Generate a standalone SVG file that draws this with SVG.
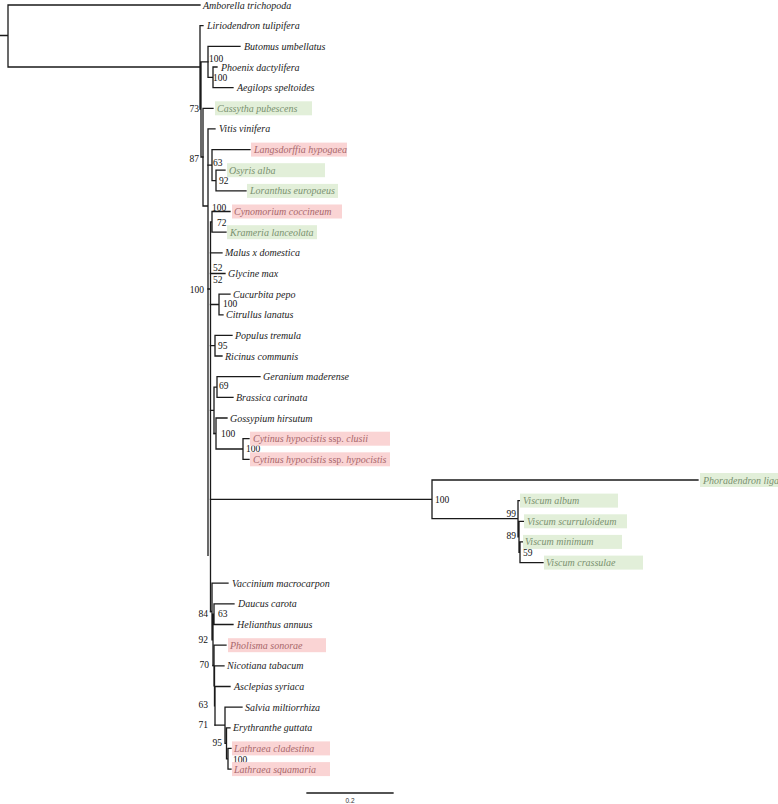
<svg xmlns="http://www.w3.org/2000/svg" width="778" height="804" viewBox="0 0 778 804">
<style>
.br{fill:none;stroke:#1a1a1a;stroke-width:1.3;stroke-linecap:square}
.lf{font-family:"Liberation Serif","Times New Roman",serif;font-style:italic;font-size:10px;fill:#222}
.g{fill:#7a9170}
.p{fill:#a8676b}
.bg{fill:#e2efd9}
.bp{fill:#fad4d4}
.sv{font-family:"Liberation Serif","Times New Roman",serif;font-size:9.5px;fill:#111}
.e{text-anchor:end}
.rm{font-style:normal}
</style>
<rect width="778" height="804" fill="#ffffff"/>
<g id="connectors">
<path class="br" d="M0 35.5H8M8 5V67M8 5H200M8 67H200"/>
<path class="br" d="M200 25.6V109M200 25.6H203M200 109H201M201 61.8V157M201 61.8H208M201 157H203"/>
<path class="br" d="M208 46.3V77.3M208 46.3H240M208 77.3H213M213 67V87.6M213 67H217M213 87.6H233"/>
<path class="br" d="M203 108.3V206M203 108.3H213M203 206H208M208 128.9V555.4M208 128.9H215"/>
<path class="br" d="M208 165.1H212M212 149.6V180.6M212 149.6H250M212 180.6H216M216 170.2V190.9M216 170.2H225M216 190.9H246"/>
<path class="br" d="M208 289H210.5M210.5 221.9V611.5M210.5 221.9H212M212 211.5V232.2M212 211.5H230M212 232.2H226"/>
<path class="br" d="M210.5 252.8H222M210.5 273.5H225M210.5 304.5H219M219 294.1V314.8M219 294.1H230M219 314.8H223"/>
<path class="br" d="M210.5 345.7H215M215 335.4V356M215 335.4H232M215 356H222"/>
<path class="br" d="M210.5 410.3H214M214 387.1V433.5M214 387.1H217M217 376.7V397.4M217 376.7H260M217 397.4H233"/>
<path class="br" d="M214 433.5H216M216 418V449M216 418H227M216 449H243M243 438.7V459.3M243 438.7H249M243 459.3H249"/>
<path class="br" d="M210.5 499.4H432M432 480V518.7M432 480H698M432 518.7H518M518 500.6V536.8M518 500.6H520M518 536.8H519M519 521.3V552.3M519 521.3H524M519 552.3H520M520 541.9V562.6M520 541.9H523M520 562.6H543"/>
<path class="br" d="M210.5 611.5H212M212 583.2V639.9M212 583.2H228M212 639.9H213M213 614.2V665.5M213 614.2H214M214 603.9V624.5M214 603.9H234M214 624.5H233"/>
<path class="br" d="M213 665.5H214M214 645.2V685.8M214 645.2H226M214 685.8H214.5M214.5 665.8V705.9M214.5 665.8H224M214.5 705.9H215M215 686.5V725.2M215 686.5H230"/>
<path class="br" d="M215 725.2H225M225 707.1V743.3M225 707.1H242M225 743.3H226.5M226.5 727.8V758.8M226.5 727.8H230M226.5 758.8H228M228 748.4V769.1M228 748.4H231M228 769.1H231"/>
</g>
<g id="support-values">
<text class="sv" x="209" y="61.5">100</text>
<text class="sv" x="213" y="80.5">100</text>
<text class="sv e" x="199" y="111.5">73</text>
<text class="sv e" x="199" y="161.5">87</text>
<text class="sv" x="213" y="165.5">63</text>
<text class="sv" x="219" y="183.5">92</text>
<text class="sv" x="212" y="210.5">100</text>
<text class="sv" x="217" y="225.5">72</text>
<text class="sv" x="213" y="270.5">52</text>
<text class="sv" x="213" y="282.5">52</text>
<text class="sv e" x="204" y="292.5">100</text>
<text class="sv" x="223" y="306.5">100</text>
<text class="sv" x="218" y="348.5">95</text>
<text class="sv" x="219" y="388.5">69</text>
<text class="sv" x="221" y="436.5">100</text>
<text class="sv" x="246" y="451.5">100</text>
<text class="sv" x="435" y="502.5">100</text>
<text class="sv e" x="516" y="516.5">99</text>
<text class="sv e" x="516" y="538.5">89</text>
<text class="sv" x="523" y="555.5">59</text>
<text class="sv e" x="208" y="616.5">84</text>
<text class="sv" x="218" y="616.5">63</text>
<text class="sv e" x="208" y="642.5">92</text>
<text class="sv e" x="209" y="667.5">70</text>
<text class="sv e" x="208" y="707.5">63</text>
<text class="sv e" x="208" y="727.5">71</text>
<text class="sv e" x="222" y="745.5">95</text>
<text class="sv" x="233" y="762.5">100</text>
</g>
<g id="leaf-amborella"><text class="lf" x="203" y="8.5">Amborella trichopoda</text></g>
<g id="leaf-liriodendron"><text class="lf" x="207" y="29.1">Liriodendron tulipifera</text></g>
<g id="leaf-butomus"><text class="lf" x="244" y="49.8">Butomus umbellatus</text></g>
<g id="leaf-phoenix"><text class="lf" x="221" y="70.5">Phoenix dactylifera</text></g>
<g id="leaf-aegilops"><text class="lf" x="237" y="91.1">Aegilops speltoides</text></g>
<g id="leaf-cassytha"><rect class="bg" x="215" y="101.3" width="97" height="14"/><text class="lf g" x="217" y="111.8">Cassytha pubescens</text></g>
<g id="leaf-vitis"><text class="lf" x="219" y="132.4">Vitis vinifera</text></g>
<g id="leaf-langsdorffia"><rect class="bp" x="251" y="142.6" width="96" height="14"/><text class="lf p" x="254" y="153.1">Langsdorffia hypogaea</text></g>
<g id="leaf-osyris"><rect class="bg" x="227" y="163.2" width="98" height="14"/><text class="lf g" x="229" y="173.7">Osyris alba</text></g>
<g id="leaf-loranthus"><rect class="bg" x="247" y="183.9" width="91" height="14"/><text class="lf g" x="250" y="194.4">Loranthus europaeus</text></g>
<g id="leaf-cynomorium"><rect class="bp" x="232" y="204.5" width="110" height="14"/><text class="lf p" x="234" y="215">Cynomorium coccineum</text></g>
<g id="leaf-krameria"><rect class="bg" x="227" y="225.2" width="90" height="14"/><text class="lf g" x="230" y="235.7">Krameria lanceolata</text></g>
<g id="leaf-malus"><text class="lf" x="225" y="256.3">Malus x domestica</text></g>
<g id="leaf-glycine"><text class="lf" x="228" y="277">Glycine max</text></g>
<g id="leaf-cucurbita"><text class="lf" x="233" y="297.6">Cucurbita pepo</text></g>
<g id="leaf-citrullus"><text class="lf" x="226" y="318.3">Citrullus lanatus</text></g>
<g id="leaf-populus"><text class="lf" x="235" y="338.9">Populus tremula</text></g>
<g id="leaf-ricinus"><text class="lf" x="225" y="359.5">Ricinus communis</text></g>
<g id="leaf-geranium"><text class="lf" x="263" y="380.2">Geranium maderense</text></g>
<g id="leaf-brassica"><text class="lf" x="236" y="400.9">Brassica carinata</text></g>
<g id="leaf-gossypium"><text class="lf" x="230" y="421.5">Gossypium hirsutum</text></g>
<g id="leaf-cytinus-clusii"><rect class="bp" x="250" y="431.7" width="140" height="14"/><text class="lf p" x="253" y="442.2">Cytinus hypocistis <tspan class="rm">ssp.</tspan> clusii</text></g>
<g id="leaf-cytinus-hypocistis"><rect class="bp" x="250" y="452.3" width="140" height="14"/><text class="lf p" x="253" y="462.8">Cytinus hypocistis <tspan class="rm">ssp.</tspan> hypocistis</text></g>
<g id="leaf-phoradendron"><rect class="bg" x="700" y="473" width="78" height="14"/><text class="lf g" x="703" y="483.5">Phoradendron liga</text></g>
<g id="leaf-viscum-album"><rect class="bg" x="520" y="493.6" width="98" height="14"/><text class="lf g" x="523" y="504.1">Viscum album</text></g>
<g id="leaf-viscum-scurruloideum"><rect class="bg" x="524" y="514.3" width="103" height="14"/><text class="lf g" x="527" y="524.8">Viscum scurruloideum</text></g>
<g id="leaf-viscum-minimum"><rect class="bg" x="523" y="534.9" width="99" height="14"/><text class="lf g" x="525" y="545.4">Viscum minimum</text></g>
<g id="leaf-viscum-crassulae"><rect class="bg" x="544" y="555.6" width="99" height="14"/><text class="lf g" x="546" y="566.1">Viscum crassulae</text></g>
<g id="leaf-vaccinium"><text class="lf" x="232" y="586.7">Vaccinium macrocarpon</text></g>
<g id="leaf-daucus"><text class="lf" x="238" y="607.4">Daucus carota</text></g>
<g id="leaf-helianthus"><text class="lf" x="237" y="628">Helianthus annuus</text></g>
<g id="leaf-pholisma"><rect class="bp" x="228" y="638.2" width="98" height="14"/><text class="lf p" x="230" y="648.7">Pholisma sonorae</text></g>
<g id="leaf-nicotiana"><text class="lf" x="227" y="669.3">Nicotiana tabacum</text></g>
<g id="leaf-asclepias"><text class="lf" x="234" y="690">Asclepias syriaca</text></g>
<g id="leaf-salvia"><text class="lf" x="245" y="710.6">Salvia miltiorrhiza</text></g>
<g id="leaf-erythranthe"><text class="lf" x="233" y="731.3">Erythranthe guttata</text></g>
<g id="leaf-lathraea-cladestina"><rect class="bp" x="232" y="741.4" width="98" height="14"/><text class="lf p" x="234" y="751.9">Lathraea cladestina</text></g>
<g id="leaf-lathraea-squamaria"><rect class="bp" x="232" y="762.1" width="98" height="14"/><text class="lf p" x="234" y="772.6">Lathraea squamaria</text></g>
<g id="scale-bar">
<path class="br" d="M307 793H393"/>
<text x="350" y="803" font-family="Liberation Sans, Arial, sans-serif" font-size="6.5" fill="#333" text-anchor="middle">0.2</text>
</g>
</svg>
